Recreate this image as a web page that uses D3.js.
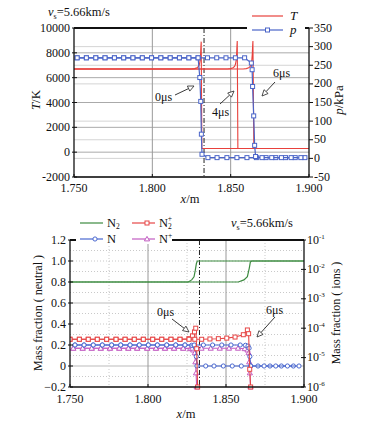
<!DOCTYPE html>
<html><head><meta charset="utf-8">
<script src="https://cdn.jsdelivr.net/npm/d3@7"></script>
<style>
body{margin:0;background:#fff;}
svg, text{font-family:"Liberation Serif","Times New Roman",serif;}
text{fill:#111;}
</style></head><body>
<svg id="c" width="368" height="423" font-family="Liberation Serif, serif"></svg>
<script>
// ---------------- DATA ----------------
const xTicks = [1.750, 1.800, 1.850, 1.900];
const tTicks = [-2000, 0, 2000, 4000, 6000, 8000, 10000];
const pTicks = [-50, 0, 50, 100, 150, 200, 250, 300, 350];
const nTicks = [-0.2, 0, 0.2, 0.4, 0.6, 0.8, 1.0, 1.2];
const ionTicks = [1e-1, 1e-2, 1e-3, 1e-4, 1e-5, 1e-6];
const ionExp = ["-1", "-2", "-3", "-4", "-5", "-6"];
const shockX = 1.833;
const speedLabel = "=5.66km/s";

// Temperature (K) profiles at 0, 4, 6 microseconds
const T_0us = [[1.750,6700],[1.825,6700],[1.827,6730],[1.8285,6800],[1.8295,6900],[1.8301,7100],[1.8305,7400],[1.8308,7900],[1.8310,8500],[1.8312,8900],[1.8316,300],[1.900,300]];
const T_4us = [[1.750,6700],[1.848,6700],[1.850,6730],[1.8515,6800],[1.8525,6900],[1.8531,7100],[1.8535,7400],[1.8538,7900],[1.8540,8500],[1.8542,8950],[1.8546,300],[1.900,300]];
const T_6us = [[1.750,6700],[1.858,6700],[1.860,6730],[1.8615,6800],[1.8625,6900],[1.8631,7100],[1.8635,7400],[1.8638,7900],[1.8640,8500],[1.8642,8950],[1.8648,300],[1.900,300]];
// Pressure (kPa) profiles at 0 and 6 microseconds
const p_0us = [[1.7520,270],[1.7579,270],[1.7639,270],[1.7698,270],[1.7758,270],[1.7817,270],[1.7876,270],[1.7936,270],[1.7995,270],[1.8054,270],[1.8114,270],[1.8173,270],[1.8233,270],[1.8292,270],[1.8303,217],[1.8309,153],[1.8313,65],[1.8317,11],[1.8355,2],[1.8413,2],[1.8476,2],[1.8540,2],[1.8604,2],[1.8664,2],[1.8726,2],[1.8788,2],[1.8850,2],[1.8912,2],[1.8974,2]];
const p_6us = [[1.7520,270],[1.7579,270],[1.7639,270],[1.7698,270],[1.7758,270],[1.7817,270],[1.7876,270],[1.7936,270],[1.7995,270],[1.8054,270],[1.8114,270],[1.8173,270],[1.8233,270],[1.8292,270],[1.8352,270],[1.8411,270],[1.8470,270],[1.8530,270],[1.8589,270],[1.8632,256],[1.8637,238],[1.8640,193],[1.8647,114],[1.8653,35],[1.8659,5],[1.8700,2],[1.8762,2],[1.8824,2],[1.8886,2],[1.8948,2]];

// Mass fractions: N2 (neutral axis)
const N2_0us = [[1.750,0.8],[1.8258,0.8],[1.8280,0.82],[1.8295,0.85],[1.8303,0.91],[1.8310,0.975],[1.8316,1.0],[1.900,1.0]];
const N2_6us = [[1.750,0.8],[1.8579,0.8],[1.8615,0.82],[1.8637,0.85],[1.8649,0.93],[1.8656,0.99],[1.8665,1.0],[1.900,1.0]];
// N (neutral axis)
const N_0us = [[1.7532,0.2],[1.7590,0.2],[1.7649,0.2],[1.7707,0.2],[1.7767,0.2],[1.7825,0.2],[1.7885,0.2],[1.7944,0.2],[1.8002,0.2],[1.8060,0.2],[1.8120,0.2],[1.8178,0.2],[1.8237,0.2],[1.8280,0.197],[1.8297,0.19],[1.8305,0.17],[1.8310,0.09],[1.8314,0],[1.8370,0],[1.8423,0],[1.8483,0],[1.8540,0],[1.8598,0],[1.8658,0],[1.8705,0],[1.8782,0],[1.8855,0],[1.8932,0]];
const N_6us = [[1.7532,0.2],[1.7590,0.2],[1.7649,0.2],[1.7707,0.2],[1.7767,0.2],[1.7825,0.2],[1.7885,0.2],[1.7944,0.2],[1.8002,0.2],[1.8060,0.2],[1.8120,0.2],[1.8178,0.2],[1.8237,0.2],[1.8296,0.2],[1.8355,0.2],[1.8414,0.2],[1.8473,0.2],[1.8532,0.2],[1.8591,0.2],[1.8625,0.197],[1.8641,0.19],[1.8648,0.17],[1.8653,0.09],[1.8658,0],[1.8744,0],[1.8819,0],[1.8894,0],[1.8968,0]];
// N2+ (ion axis, log)
const N2p_0us = [[1.7500,4.2e-5],[1.7560,4.2e-5],[1.7617,4.2e-5],[1.7675,4.2e-5],[1.7735,4.2e-5],[1.7795,4.2e-5],[1.7853,4.2e-5],[1.7912,4.2e-5],[1.7970,4.2e-5],[1.8030,4.2e-5],[1.8088,4.2e-5],[1.8147,4.2e-5],[1.8205,4.2e-5],[1.8263,4.4e-5],[1.8285,5.5e-5],[1.8298,7.5e-5],[1.8306,1.0e-4],[1.8312,2e-5],[1.8318,1e-6]];
const N2p_6us = [[1.7500,4.2e-5],[1.7560,4.2e-5],[1.7617,4.2e-5],[1.7675,4.2e-5],[1.7735,4.2e-5],[1.7795,4.2e-5],[1.7853,4.2e-5],[1.7912,4.2e-5],[1.7970,4.2e-5],[1.8030,4.2e-5],[1.8088,4.2e-5],[1.8147,4.2e-5],[1.8205,4.2e-5],[1.8263,4.2e-5],[1.8300,4.2e-5],[1.8344,4.2e-5],[1.8397,4.3e-5],[1.8451,4.4e-5],[1.8505,4.6e-5],[1.8558,5.0e-5],[1.8611,6.0e-5],[1.8637,8.7e-5],[1.8645,6.5e-5],[1.8652,4e-6],[1.8658,1e-6]];
// N+ (ion axis, log)
const Np_0us = [[1.7521,2.07e-5],[1.7581,2.07e-5],[1.7639,2.07e-5],[1.7697,2.07e-5],[1.7756,2.07e-5],[1.7816,2.07e-5],[1.7874,2.07e-5],[1.7931,2.07e-5],[1.7995,2.07e-5],[1.8051,2.07e-5],[1.8109,2.07e-5],[1.8167,2.07e-5],[1.8226,2.07e-5],[1.8270,2.0e-5],[1.8290,1.8e-5],[1.8300,1.45e-5],[1.8304,7.1e-6],[1.8308,3e-6],[1.8312,1e-6]];
const Np_6us = [[1.7521,2.07e-5],[1.7581,2.07e-5],[1.7639,2.07e-5],[1.7697,2.07e-5],[1.7756,2.07e-5],[1.7816,2.07e-5],[1.7874,2.07e-5],[1.7931,2.07e-5],[1.7995,2.07e-5],[1.8051,2.07e-5],[1.8109,2.07e-5],[1.8167,2.07e-5],[1.8226,2.07e-5],[1.8284,2.07e-5],[1.8343,2.07e-5],[1.8402,2.07e-5],[1.8460,2.07e-5],[1.8519,2.07e-5],[1.8577,2.07e-5],[1.8620,2.0e-5],[1.8638,1.8e-5],[1.8645,1.45e-5],[1.8649,7.1e-6],[1.8653,3e-6],[1.8657,1e-6]];

// ---------------- DRAW ----------------
const svg = d3.select('#c');
const C = {T:'#e8413c', p:'#4a64c8', N2:'#3d8b40', N2p:'#e64646', N:'#4a68d0', Np:'#c25cc2'};

function marker(g, type, x, y, col){
  if(type==='sq') g.append('rect').attr('x',x-2).attr('y',y-2).attr('width',4).attr('height',4).attr('fill','#fff').attr('stroke',col).attr('stroke-width',1);
  else if(type==='ci') g.append('circle').attr('cx',x).attr('cy',y).attr('r',2.1).attr('fill','#fff').attr('stroke',col).attr('stroke-width',1);
  else if(type==='tr') g.append('path').attr('d',`M${x},${y-2.6}L${x+2.6},${y+1.9}L${x-2.6},${y+1.9}Z`).attr('fill','#fff').attr('stroke',col).attr('stroke-width',1);
}
function series(g, data, xs, ys, col, mk, w){
  g.append('path').datum(data).attr('fill','none').attr('stroke',col).attr('stroke-width',w||1.2)
    .attr('d', d3.line().x(d=>xs(d[0])).y(d=>ys(d[1])));
  if(mk) data.forEach(d=>marker(g, mk, xs(d[0]), ys(d[1]), col));
}
function arrow(g, x1,y1,x2,y2){
  const a=Math.atan2(y2-y1,x2-x1), L=6, W=2.8;
  const bx=x2-L*Math.cos(a), by=y2-L*Math.sin(a);
  g.append('line').attr('x1',x1).attr('y1',y1).attr('x2',bx).attr('y2',by).attr('stroke','#222').attr('stroke-width',0.9);
  g.append('path').attr('d',`M${x2},${y2}L${bx+W*Math.sin(a)},${by-W*Math.cos(a)}L${bx-W*Math.sin(a)},${by+W*Math.cos(a)}Z`).attr('fill','#fff').attr('stroke','#222').attr('stroke-width',0.8);
}
function vsTitle(x,y){
  const t=svg.append('text').attr('x',x).attr('y',y).attr('font-size',12.5);
  t.append('tspan').attr('font-style','italic').text('v');
  t.append('tspan').attr('font-size',8).attr('dy',3).text('s');
  t.append('tspan').attr('dy',-3).text(speedLabel);
}

// ===== TOP CHART =====
const L1=74, R1=309, T1=28, B1=177;
const x1 = d3.scaleLinear().domain([1.75,1.9]).range([L1,R1]);
const yT = d3.scaleLinear().domain([-2000,10000]).range([B1,T1]);
const yP = d3.scaleLinear().domain([-50,350]).range([B1,T1]);
const g1 = svg.append('g');
// grid
pTicks.forEach(v=>g1.append('line').attr('x1',L1).attr('x2',R1).attr('y1',yP(v)).attr('y2',yP(v)).attr('stroke','#d4d4d4').attr('stroke-width',1));
tTicks.forEach(v=>g1.append('line').attr('x1',L1).attr('x2',R1).attr('y1',yT(v)).attr('y2',yT(v)).attr('stroke','#aaa').attr('stroke-width',1));
[1.800,1.850].forEach(v=>g1.append('line').attr('x1',x1(v)).attr('x2',x1(v)).attr('y1',T1).attr('y2',B1).attr('stroke','#999').attr('stroke-width',1));
// shock line
g1.append('line').attr('x1',x1(shockX)).attr('x2',x1(shockX)).attr('y1',T1).attr('y2',B1).attr('stroke','#222').attr('stroke-width',1).attr('stroke-dasharray','5,2,1,2');
// clip
svg.append('clipPath').attr('id','cp1').append('rect').attr('x',L1).attr('y',T1-4).attr('width',R1-L1+4).attr('height',B1-T1+8);
const d1 = g1.append('g').attr('clip-path','url(#cp1)');
[T_0us,T_4us,T_6us].forEach(s=>series(d1,s,x1,yT,C.T,null,1.1));
[p_0us,p_6us].forEach(s=>series(d1,s,x1,yP,C.p,'sq',1.2));
// axes
g1.append('line').attr('x1',L1).attr('x2',L1).attr('y1',T1).attr('y2',B1).attr('stroke','#111').attr('stroke-width',1.3);
g1.append('line').attr('x1',L1).attr('x2',R1).attr('y1',B1).attr('y2',B1).attr('stroke','#111').attr('stroke-width',1.3);
g1.append('line').attr('x1',R1).attr('x2',R1).attr('y1',T1).attr('y2',B1).attr('stroke','#111').attr('stroke-width',1.3);
g1.append('line').attr('x1',L1).attr('x2',R1).attr('y1',T1).attr('y2',T1).attr('stroke','#111').attr('stroke-width',1.8);
tTicks.forEach(v=>{
  g1.append('line').attr('x1',L1-2).attr('x2',L1+3).attr('y1',yT(v)).attr('y2',yT(v)).attr('stroke','#111');
  g1.append('text').attr('x',L1-4).attr('y',yT(v)+4).attr('text-anchor','end').attr('font-size',12).text(v);
});
pTicks.forEach(v=>{
  g1.append('line').attr('x1',R1).attr('x2',R1+4).attr('y1',yP(v)).attr('y2',yP(v)).attr('stroke','#111');
  g1.append('text').attr('x',R1+5).attr('y',yP(v)+3.5).attr('font-size',12).text(v);
});
xTicks.forEach(v=>{
  g1.append('line').attr('x1',x1(v)).attr('x2',x1(v)).attr('y1',B1-3).attr('y2',B1).attr('stroke','#111');
  g1.append('text').attr('x',x1(v)).attr('y',B1+15).attr('text-anchor','middle').attr('font-size',12).text(d3.format('.3f')(v));
});
{
  const t=g1.append('text').attr('x',190).attr('y',203).attr('text-anchor','middle').attr('font-size',12.5);
  t.append('tspan').attr('font-style','italic').text('x'); t.append('tspan').text('/m');
  const ty=g1.append('text').attr('transform','translate(40,100) rotate(-90)').attr('text-anchor','middle').attr('font-size',13);
  ty.append('tspan').attr('font-style','italic').text('T'); ty.append('tspan').text('/K');
  const tp=g1.append('text').attr('transform','translate(343,100) rotate(-90)').attr('text-anchor','middle').attr('font-size',13);
  tp.append('tspan').attr('font-style','italic').text('p'); tp.append('tspan').text('/kPa');
}
// legend
g1.append('rect').attr('x',247).attr('y',4).attr('width',58).attr('height',30).attr('fill','#fff');
g1.append('line').attr('x1',252).attr('x2',283).attr('y1',16).attr('y2',16).attr('stroke',C.T).attr('stroke-width',1.2);
g1.append('text').attr('x',290).attr('y',20).attr('font-size',13).attr('font-style','italic').text('T');
g1.append('line').attr('x1',252).attr('x2',283).attr('y1',30).attr('y2',30).attr('stroke',C.p).attr('stroke-width',1.2);
marker(g1,'sq',267.5,30,C.p);
g1.append('text').attr('x',290).attr('y',34).attr('font-size',13).attr('font-style','italic').text('p');
// annotations
g1.append('text').attr('x',155).attr('y',101).attr('font-size',12).text('0μs');
arrow(g1,175,95,194,86);
g1.append('text').attr('x',212).attr('y',116).attr('font-size',12).text('4μs');
arrow(g1,220,104,234,91);
g1.append('text').attr('x',273).attr('y',77).attr('font-size',12).text('6μs');
arrow(g1,275,82,262,96);
vsTitle(48,16);

// ===== BOTTOM CHART =====
const L2=70, R2=304, T2=240, B2=387;
const x2 = d3.scaleLinear().domain([1.75,1.9]).range([L2,R2]);
const yN = d3.scaleLinear().domain([-0.2,1.2]).range([B2,T2]);
const yI = d3.scaleLog().domain([1e-6,1e-1]).range([B2,T2]);
const g2 = svg.append('g');
// dotted grid
d3.range(-0.1,1.2,0.1).forEach(v=>g2.append('line').attr('x1',L2).attr('x2',R2).attr('y1',yN(v)).attr('y2',yN(v)).attr('stroke','#bbb').attr('stroke-width',0.8).attr('stroke-dasharray','1,2'));
[1.775,1.825,1.875].forEach(v=>g2.append('line').attr('x1',x2(v)).attr('x2',x2(v)).attr('y1',T2).attr('y2',B2).attr('stroke','#bbb').attr('stroke-width',0.8).attr('stroke-dasharray','1,2'));
[0,0.6].forEach(v=>g2.append('line').attr('x1',L2).attr('x2',R2).attr('y1',yN(v)).attr('y2',yN(v)).attr('stroke','#ddd').attr('stroke-width',2));
[1.800,1.850].forEach(v=>g2.append('line').attr('x1',x2(v)).attr('x2',x2(v)).attr('y1',T2).attr('y2',B2).attr('stroke','#999').attr('stroke-width',1));
g2.append('line').attr('x1',x2(shockX)).attr('x2',x2(shockX)).attr('y1',T2).attr('y2',B2).attr('stroke','#222').attr('stroke-width',1).attr('stroke-dasharray','5,2,1,2');
svg.append('clipPath').attr('id','cp2').append('rect').attr('x',L2).attr('y',T2-4).attr('width',R2-L2+4).attr('height',B2-T2+8);
const d2 = g2.append('g').attr('clip-path','url(#cp2)');
[N2_0us,N2_6us].forEach(s=>series(d2,s,x2,yN,C.N2,null,1.2));
[Np_0us,Np_6us].forEach(s=>series(d2,s,x2,yI,C.Np,'tr',1.1));
[N_0us,N_6us].forEach(s=>series(d2,s,x2,yN,C.N,'ci',1.1));
[N2p_0us,N2p_6us].forEach(s=>series(d2,s,x2,yI,C.N2p,'sq',1.1));
// axes
g2.append('line').attr('x1',L2).attr('x2',L2).attr('y1',T2).attr('y2',B2).attr('stroke','#111').attr('stroke-width',1.3);
g2.append('line').attr('x1',L2).attr('x2',R2).attr('y1',B2).attr('y2',B2).attr('stroke','#111').attr('stroke-width',1.3);
g2.append('line').attr('x1',R2).attr('x2',R2).attr('y1',T2).attr('y2',B2).attr('stroke','#111').attr('stroke-width',1.3);
g2.append('line').attr('x1',L2).attr('x2',R2).attr('y1',T2).attr('y2',T2).attr('stroke','#111').attr('stroke-width',2);
nTicks.forEach(v=>{
  g2.append('line').attr('x1',L2-2).attr('x2',L2+3).attr('y1',yN(v)).attr('y2',yN(v)).attr('stroke','#111');
  g2.append('text').attr('x',L2-4).attr('y',yN(v)+4).attr('text-anchor','end').attr('font-size',12).text(v===0?'0':d3.format('.1f')(v));
});
ionTicks.forEach((v,i)=>{
  g2.append('line').attr('x1',R2-3).attr('x2',R2+2).attr('y1',yI(v)).attr('y2',yI(v)).attr('stroke','#111');
  const t=g2.append('text').attr('x',R2+3).attr('y',yI(v)+3.5).attr('font-size',12);
  t.append('tspan').text('10'); t.append('tspan').attr('font-size',7).attr('dy',-5).text(ionExp[i]);
});
xTicks.forEach(v=>{
  g2.append('line').attr('x1',x2(v)).attr('x2',x2(v)).attr('y1',B2-3).attr('y2',B2).attr('stroke','#111');
  g2.append('text').attr('x',x2(v)).attr('y',B2+16).attr('text-anchor','middle').attr('font-size',12).text(d3.format('.3f')(v));
});
{
  const t=g2.append('text').attr('x',186).attr('y',418).attr('text-anchor','middle').attr('font-size',12.5);
  t.append('tspan').attr('font-style','italic').text('x'); t.append('tspan').text('/m');
  g2.append('text').attr('transform','translate(42,313) rotate(-90)').attr('text-anchor','middle').attr('font-size',12).text('Mass fraction ( neutral )');
  g2.append('text').attr('transform','translate(340,313) rotate(-90)').attr('text-anchor','middle').attr('font-size',12).text('Mass fraction ( ions )');
}
// legend
g2.append('rect').attr('x',76).attr('y',213).attr('width',96).attr('height',31).attr('fill','#fff');
function legItem(x,y,col,mk,lab,sub,sup){
  g2.append('line').attr('x1',x).attr('x2',x+23).attr('y1',y).attr('y2',y).attr('stroke',col).attr('stroke-width',1.2);
  if(mk) marker(g2,mk,x+15,y,col);
  const t=g2.append('text').attr('x',x+27).attr('y',y+4).attr('font-size',12.5).text(lab);
  if(sub) t.append('tspan').attr('font-size',7.5).attr('dy',2).text(sub);
  if(sup) t.append('tspan').attr('font-size',7.5).attr('dx',sub?-4:0).attr('dy',sub?-8:-5).text(sup);
}
legItem(80,223,C.N2,null,'N','2',null);
legItem(132,223,C.N2p,'sq','N','2','+');
legItem(80,239,C.N,'ci','N',null,null);
legItem(132,239,C.Np,'tr','N',null,'+');
// annotations
g2.append('text').attr('x',157).attr('y',316).attr('font-size',12).text('0μs');
arrow(g2,172,319,189,332);
g2.append('text').attr('x',266).attr('y',314).attr('font-size',12).text('6μs');
arrow(g2,275,317,257,337);
vsTitle(231,227);
</script>
</body></html>
